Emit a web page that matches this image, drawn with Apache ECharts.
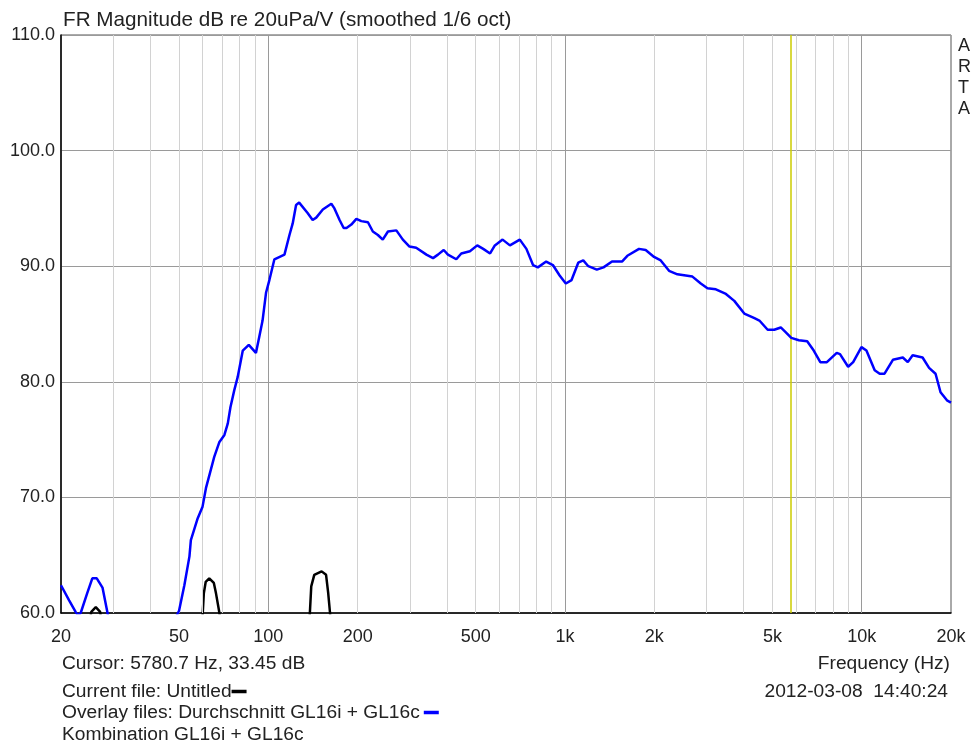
<!DOCTYPE html>
<html><head><meta charset="utf-8">
<script src="https://cdn.jsdelivr.net/npm/echarts@6/dist/echarts.min.js"></script>
<style>html,body{margin:0;padding:0;background:#fff}#c{width:973px;height:747px}</style>
</head><body><div id="c"></div><script>
const titleText = 'FR Magnitude dB re 20uPa/V (smoothed 1/6 oct)';
const xTicks = [20, 50, 100, 200, 500, 1000, 2000, 5000, 10000, 20000];
const xTickLabels = ['20', '50', '100', '200', '500', '1k', '2k', '5k', '10k', '20k'];
const minorGrid = [30, 40, 50, 60, 70, 80, 90, 200, 300, 400, 500, 600, 700, 800, 900,
  2000, 3000, 4000, 5000, 6000, 7000, 8000, 9000];
const majorGrid = [100, 1000, 10000];
const yMin = 60, yMax = 110, yStep = 10;

const blueFreq = [20, 21.3, 22.4, 22.8, 23.3, 24.5, 25.5, 26.4, 27.6, 28.7, 30, 38, 46, 48.5, 50,
  52.1, 54.2, 54.8, 57.8, 60.0, 61.6, 64.0, 65.7, 68.4, 71.1, 73.0, 74.5, 76.8, 78.8, 82.0, 85.9,
  90.8, 93.2, 95.6, 98.2, 100.8, 104.8, 113.3, 117.8, 120.8, 124, 127, 135.6, 141, 145, 152.6,
  163, 167, 173.8, 179.4, 183.4, 190.4, 198, 205.8, 216.6, 225, 234, 243, 253, 270, 284, 299,
  315, 341, 359, 373, 390, 403, 430, 447, 478, 506, 530, 559, 580, 616, 652, 704, 741, 780, 810,
  864, 910, 959, 1006, 1052, 1108, 1152, 1198, 1280, 1348, 1440, 1556, 1622, 1776, 1870, 1996,
  2102, 2242, 2392, 2688, 2868, 3020, 3224, 3486, 3720, 4020, 4350, 4520, 4820, 5072, 5336,
  5540, 5790, 6140, 6550, 6892, 7252, 7632, 8240, 8450, 9000, 9360, 9980, 10374, 11060, 11500,
  11940, 12740, 13760, 14300, 14850, 16040, 16870, 17740, 18440, 19380, 20000];
const blueDb = [62.4, 61.1, 60.1, 59.8, 60.0, 61.7, 63.0, 63.0, 62.2, 60.0, 57, 52, 57, 59.5, 60.2,
  62.4, 64.9, 66.3, 68.2, 69.2, 70.8, 72.4, 73.5, 74.8, 75.4, 76.4, 77.8, 79.3, 80.4, 82.7, 83.2,
  82.5, 83.9, 85.3, 87.7, 88.8, 90.6, 91.0, 92.7, 93.7, 95.3, 95.5, 94.6, 94.0, 94.2, 94.9,
  95.4, 95.0, 94.0, 93.3, 93.3, 93.6, 94.1, 93.9, 93.8, 93.0, 92.7, 92.3, 93.0, 93.1, 92.3, 91.7,
  91.6, 91.0, 90.7, 91.0, 91.4, 91.0, 90.6, 91.1, 91.3, 91.8, 91.5, 91.1, 91.8, 92.3, 91.8, 92.3, 91.5, 90.1, 89.9,
  90.4, 90.1, 89.2, 88.5, 88.8, 90.3, 90.5, 90.0, 89.7, 89.9, 90.4, 90.4, 90.9, 91.5, 91.4, 90.8,
  90.5, 89.6, 89.3, 89.1, 88.5, 88.1, 88.0, 87.6, 87.0, 85.9, 85.5, 85.3, 84.5, 84.5, 84.7,
  84.3, 83.8, 83.6, 83.5, 82.7, 81.7, 81.7, 82.5, 82.4, 81.3, 81.7, 83.0, 82.7, 81.0, 80.7,
  80.7, 81.9, 82.1, 81.7, 82.3, 82.1, 81.2, 80.7, 79.1, 78.4, 78.2];

const blackFreq = [20, 24.6, 25.3, 26.2, 27.1, 27.8, 40, 58, 60.1, 60.6, 61.5, 63.2, 65.5, 66.6, 68.4,
  71, 100, 134, 138, 139.5, 142.8, 151.2, 156.5, 159, 161.4, 166, 200];
const blackDb = [50, 58, 60.1, 60.5, 60.1, 58, 45, 55, 60.0, 61.7, 62.7, 63.0, 62.6, 61.7, 60.0,
  55, 45, 55, 60.0, 62.3, 63.3, 63.6, 63.3, 61.8, 60.0, 55, 45];

const cursorFreq = 5780.7;
const cursorText = 'Cursor: 5780.7 Hz, 33.45 dB';
const currentFileText = 'Current file: Untitled';
const overlayText = 'Overlay files: Durchschnitt GL16i + GL16c';
const overlay2Text = 'Kombination GL16i + GL16c';
const xAxisName = 'Frequency (Hz)';
const dateText = '2012-03-08  14:40:24';

const FONT = 'Liberation Sans, Arial, sans-serif';
const FS = 18;
const FB = 19.2;
const FT = 20.7;
const chart = echarts.init(document.getElementById('c'), null, {renderer: 'canvas'});

function pairs(xs, ys) { return xs.map((x, i) => [x, ys[i]]); }
function labelFor(v) {
  let best = 0, bd = Infinity;
  xTicks.forEach((t, i) => { const d = Math.abs(Math.log(v / t)); if (d < bd) { bd = d; best = i; } });
  return xTickLabels[best];
}

const option = {
  animation: false,
  grid: {left: 61, right: 22, top: 35, bottom: 134, show: true, borderColor: '#555', borderWidth: 1, backgroundColor: '#fff'},
  xAxis: {
    type: 'log', logBase: 10, min: 20, max: 20000,
    axisLine: {show: true, lineStyle: {color: '#000', width: 1.5}},
    axisTick: {show: false},
    splitLine: {show: false},
    minorTick: {show: false}, minorSplitLine: {show: false},
    axisLabel: {customValues: xTicks, formatter: labelFor, fontFamily: FONT, fontSize: FS, color: '#222', margin: 15,
      showMinLabel: true, showMaxLabel: true, hideOverlap: false}
  },
  yAxis: {
    type: 'value', min: yMin, max: yMax, interval: yStep,
    axisLine: {show: true, lineStyle: {color: '#000', width: 1.5}},
    axisTick: {show: false},
    splitLine: {show: true, lineStyle: {color: '#9a9a9a', width: 1}},
    axisLabel: {formatter: v => v.toFixed(1), fontFamily: FONT, fontSize: FS, color: '#222', margin: 6}
  },
  series: [
    {
      type: 'line', data: [], z: 1, silent: true,
      markLine: {
        silent: true, symbol: 'none', label: {show: false}, animation: false,
        data: minorGrid.map(f => ({xAxis: f, lineStyle: {color: '#d2d2d2', width: 1, type: 'solid'}}))
          .concat(majorGrid.map(f => ({xAxis: f, lineStyle: {color: '#9a9a9a', width: 1, type: 'solid'}})))
      }
    },
    {
      type: 'line', data: [], z: 2, silent: true,
      markLine: {
        silent: true, symbol: 'none', label: {show: false}, animation: false,
        data: [{xAxis: cursorFreq, lineStyle: {color: '#cccc00', width: 1.5, type: 'solid'}}]
      }
    },
    {
      name: 'current', type: 'line', data: pairs(blackFreq, blackDb), showSymbol: false, clip: true, z: 4,
      lineStyle: {color: '#000', width: 2.5}, silent: true
    },
    {
      name: 'overlay', type: 'line', data: pairs(blueFreq, blueDb), showSymbol: false, clip: true, z: 5,
      lineStyle: {color: '#0000ff', width: 2.5}, silent: true
    }
  ],
  graphic: [
    {type: 'text', left: 63, top: 10, style: {text: titleText, font: FT + 'px ' + FONT, fill: '#222'}},
    {type: 'text', left: 958, top: 36, style: {text: 'A\nR\nT\nA', font: FS + 'px ' + FONT, fill: '#222', lineHeight: 21, align: 'center'}},
    {type: 'text', left: 62, top: 654, style: {text: cursorText, font: FB + 'px ' + FONT, fill: '#222'}},
    {type: 'text', left: 62, top: 682, style: {text: currentFileText + '{k|}', font: FB + 'px ' + FONT, fill: '#222',
      rich: {k: {width: 15, height: 3.5, backgroundColor: '#000', verticalAlign: 'middle'}}}},
    {type: 'text', left: 62, top: 703, style: {text: overlayText + '{s|}{b|}', font: FB + 'px ' + FONT, fill: '#222',
      rich: {s: {width: 4, height: 3}, b: {width: 15, height: 3.5, backgroundColor: '#0000ff', verticalAlign: 'middle'}}}},
    {type: 'text', left: 62, top: 725, style: {text: overlay2Text, font: FB + 'px ' + FONT, fill: '#222'}},
    {type: 'text', right: 23, top: 654, style: {text: xAxisName, font: FB + 'px ' + FONT, fill: '#222', align: 'right'}},
    {type: 'text', right: 25, top: 682, style: {text: dateText, font: FB + 'px ' + FONT, fill: '#222', align: 'right'}}
  ]
};
chart.setOption(option);
</script></body></html>
